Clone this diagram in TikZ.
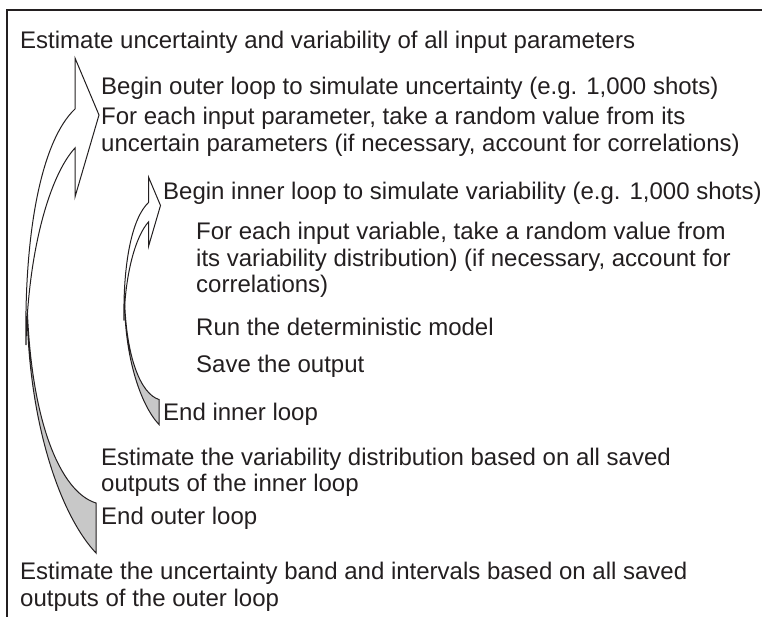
\documentclass[tikz,border=0pt]{standalone}
\usepackage{fontspec}
\setmainfont{Liberation Sans}
\definecolor{textgray}{RGB}{35,31,32}
\definecolor{backgray}{RGB}{200,200,200}
\tikzstyle{txt} = [anchor=base west, inner sep=0pt, align=left, text=textgray, font=\fontsize{24}{26.5}\selectfont]
\tikzstyle{front} = [draw=textgray, fill=white, line width=1pt]
\tikzstyle{back} = [draw=textgray, fill=backgray, line width=1pt]
\tikzstyle{frame} = [draw=textgray, line width=1.2pt]
% curved loop arrow, drawn at the size of the outer loop
\newcommand{\looparrow}{%
	\draw [back] (96,503) -- (96,553) .. controls (60,515) and (27,420) .. (27,300)
		.. controls (30,420) and (60,492) .. (96,503) -- cycle;
	\draw [front] (75,58) -- (99,115) -- (75,197) -- (75,148)
		.. controls (50,175) and (28,250) .. (26,345)
		.. controls (24,230) and (42,140) .. (75,109) -- cycle;
}

\begin{document}
\begin{tikzpicture}[x=1pt, y=-1pt]
	\useasboundingbox (0,0) rectangle (762,617);
	\draw [frame] (762,10) -- (7,10) -- (7,617);
	% outer loop arrow
	\looparrow
	% inner loop arrow
	\begin{scope}[shift={(111,148)}, scale=0.5]
		\looparrow
	\end{scope}
	% base of a node with several lines = base of its last line
	\node (est) [txt] at (20,49) {Estimate uncertainty and variability of all input parameters};
	\node (outerbegin) [txt] at (101,95) {Begin outer loop to simulate uncertainty (e.g. 1,000 shots)};
	\node (drawpar) [txt] at (101,151.5) {For each input parameter, take a random value from its\\uncertain parameters (if necessary, account for correlations)};
	\node (innerbegin) [txt] at (163,200) {Begin inner loop to simulate variability (e.g. 1,000 shots)};
	\node (drawvar) [txt] at (196,293) {For each input variable, take a random value from\\its variability distribution) (if necessary, account for\\correlations)};
	\node (runmodel) [txt] at (196,335) {Run the deterministic model};
	\node (saveout) [txt] at (196,372) {Save the output};
	\node (innerend) [txt] at (163,420) {End inner loop};
	\node (estvar) [txt] at (101,491.5) {Estimate the variability distribution based on all saved\\outputs of the inner loop};
	\node (outerend) [txt] at (101,524) {End outer loop};
	\node (estunc) [txt] at (20,606) {Estimate the uncertainty band and intervals based on all saved\\outputs of the outer loop};
\end{tikzpicture}
\end{document}
